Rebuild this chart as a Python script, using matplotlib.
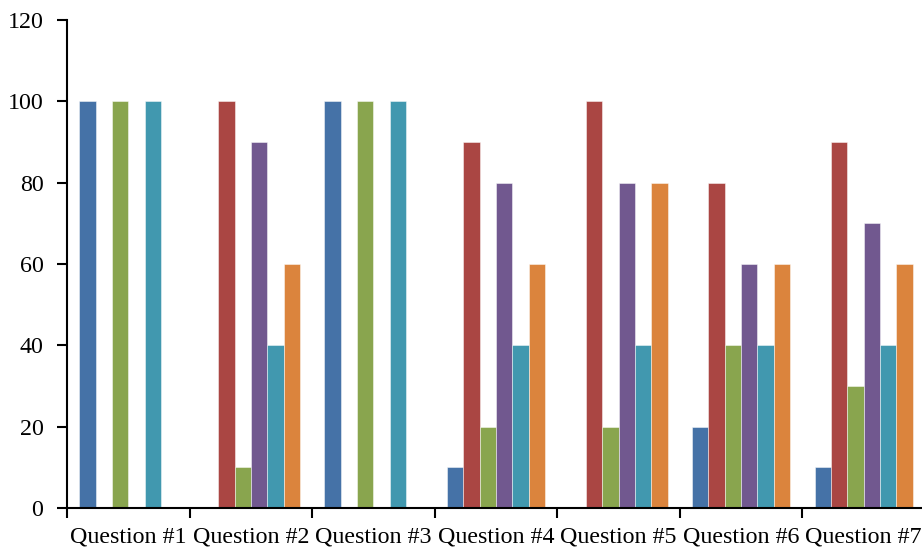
import matplotlib
matplotlib.use("Agg")
import matplotlib.pyplot as plt
import numpy as np

categories = ["Question #1", "Question #2", "Question #3", "Question #4",
              "Question #5", "Question #6", "Question #7"]

# one list per series, in the order they sit inside each group
series_a = [100, 0, 100, 10, 0, 20, 10]
series_b = [0, 100, 0, 90, 100, 80, 90]
series_c = [100, 10, 100, 20, 20, 40, 30]
series_d = [0, 90, 0, 80, 80, 60, 70]
series_e = [100, 40, 100, 40, 40, 40, 40]
series_f = [0, 60, 0, 60, 80, 60, 60]

y_ticks = [0, 20, 40, 60, 80, 100, 120]

colors = ["#4572A7", "#AA4643", "#89A54E", "#71588F", "#4198AF", "#DB843D"]
all_series = [series_a, series_b, series_c, series_d, series_e, series_f]

plt.rcParams["font.family"] = ["Liberation Serif", "DejaVu Serif"]

fig = plt.figure(figsize=(9.22, 5.5), dpi=100)
ax = fig.add_axes([67 / 922, 42 / 550, 858 / 922, 488 / 550])

n = len(all_series)
bar_w = 0.1332
centers = np.arange(len(categories)) + 0.5
for j, (vals, col) in enumerate(zip(all_series, colors)):
    offs = (j - (n - 1) / 2) * bar_w
    ax.bar(centers + offs, vals, width=bar_w, color=col,
           edgecolor=(1, 1, 1, 0.55), linewidth=0.6, zorder=2)

ax.set_xlim(0, len(categories))
ax.set_ylim(0, 120)
ax.set_yticks(y_ticks)
ax.set_yticklabels([str(v) for v in y_ticks])

# group boundaries carry the tick marks, labels sit at group centres
ax.set_xticks(np.arange(len(categories) + 1))
ax.set_xticklabels([])
ax.set_xticks(centers, minor=True)
ax.set_xticklabels(categories, minor=True)
ax.tick_params(axis="x", which="minor", length=0, pad=13, labelsize=17.3)
ax.tick_params(axis="x", which="major", length=7, width=1.5, direction="out")
ax.tick_params(axis="y", length=7, width=1.5, direction="out", pad=10, labelsize=17.3)

for side in ("top", "right"):
    ax.spines[side].set_visible(False)
for side in ("left", "bottom"):
    ax.spines[side].set_linewidth(1.5)

fig.savefig("out.png", dpi=100, facecolor="white")
